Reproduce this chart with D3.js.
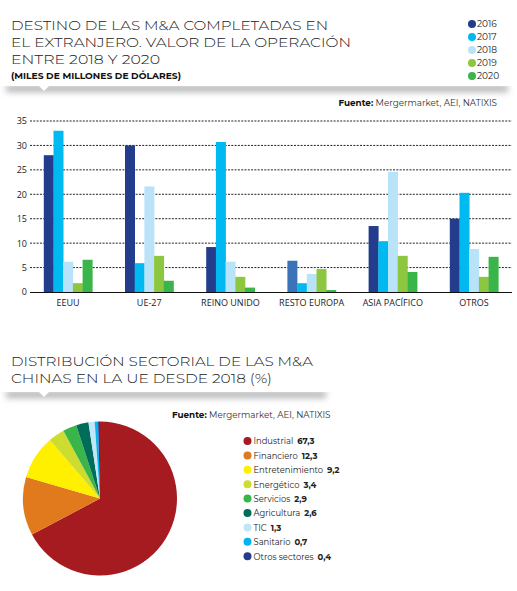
<!DOCTYPE html>
<html><head><meta charset="utf-8">
<script src="https://cdn.jsdelivr.net/npm/d3@7/dist/d3.min.js"></script>
<style>
body{margin:0;background:#fff;}
svg{display:block;}
text{font-family:"Montserrat","Lato","Open Sans",sans-serif;}
</style></head>
<body>
<svg id="chart" width="517" height="591"></svg>
<script>
// ---------- DATA ----------
const categories = ["EEUU", "UE-27", "REINO UNIDO", "RESTO EUROPA", "ASIA PACÍFICO", "OTROS"];
const years = ["2016", "2017", "2018", "2019", "2020"];
const v2016 = [28, 30, 9.2, 6.4, 13.5, 15];
const v2017 = [33, 5.9, 30.7, 1.8, 10.4, 20.3];
const v2018 = [6.2, 21.6, 6.2, 3.7, 24.6, 8.8];
const v2019 = [1.8, 7.4, 3.1, 4.7, 7.4, 3.1];
const v2020 = [6.6, 2.3, 0.9, 0.4, 4.1, 7.2];
const yTicks = [0, 5, 10, 15, 20, 25, 30, 35];
const yearColors = ["#243c8c", "#00b9f1", "#b8e3f8", "#8dc63f", "#39b54a"];

const sectors = ["Industrial", "Financiero", "Entretenimiento", "Energético", "Servicios", "Agricultura", "TIC", "Sanitario", "Otros sectores"];
const shares = [67.3, 12.3, 9.2, 3.4, 2.9, 2.6, 1.3, 0.7, 0.4];
const shareLabels = ["67,3", "12,3", "9,2", "3,4", "2,9", "2,6", "1,3", "0,7", "0,4"];
const sectorColors = ["#a51b20", "#e07a1c", "#fff000", "#cddc2f", "#3ab54a", "#006d5b", "#bfe6f9", "#00b6ef", "#253c8d"];

const series = [v2016, v2017, v2018, v2019, v2020];

const svg = d3.select("#chart");
const defs = svg.append("defs");
const blur = defs.append("filter").attr("id", "blur").attr("x", "-10%").attr("y", "-200%").attr("width", "120%").attr("height", "500%");
blur.append("feGaussianBlur").attr("stdDeviation", 3);

function header(y, x1, x2, px) {
  svg.append("rect").attr("x", x1).attr("y", y - 1).attr("width", x2 - x1).attr("height", 7)
    .attr("fill", "#b4b4b4").attr("filter", "url(#blur)");
  svg.append("rect").attr("x", x1 - 20).attr("y", y - 20).attr("width", x2 - x1 + 40).attr("height", 20).attr("fill", "#fff");
  svg.append("path").attr("d", `M${px - 5},${y} L${px + 5},${y} L${px},${y + 5} Z`).attr("fill", "#fff");
}

// ---------- TITLE 1 ----------
header(86, 6, 508, 44);
const t1 = ["DESTINO DE LAS M&A COMPLETADAS EN", "EL EXTRANJERO. VALOR DE LA OPERACIÓN", "ENTRE 2018 Y 2020"];
const t1w = [317, 340, 149];
const t1y = [30, 47, 64];
t1.forEach((t, i) => {
  svg.append("text").attr("x", 11).attr("y", t1y[i]).attr("font-size", 14).attr("font-weight", 300)
    .attr("fill", "#222").attr("textLength", t1w[i]).attr("lengthAdjust", "spacingAndGlyphs").text(t);
});
svg.append("text").attr("x", 11).attr("y", 79).attr("font-size", 8).attr("font-weight", 700)
  .attr("fill", "#111").attr("textLength", 170).attr("lengthAdjust", "spacingAndGlyphs").text("(MILES DE MILLONES DE DÓLARES)");

// legend years
const lg = svg.append("g");
years.forEach((y, i) => {
  const yy = 24 + i * 13;
  lg.append("circle").attr("cx", 472).attr("cy", yy).attr("r", 4).attr("fill", yearColors[i]);
  lg.append("text").attr("x", 477).attr("y", yy + 3.3).attr("font-size", 9).attr("fill", "#222").text(y);
});

// fuente
const f1 = svg.append("text").attr("x", 497).attr("y", 106).attr("text-anchor", "end").attr("font-size", 8.8).attr("fill", "#333");
f1.append("tspan").attr("font-weight", 700).attr("fill", "#111").text("Fuente:");
f1.append("tspan").text(" Mergermarket, AEI, NATIXIS");

// ---------- BAR CHART ----------
const x0 = d3.scaleBand().domain(categories).range([27.4, 514.6]).padding(0);
const x1 = d3.scaleBand().domain(years).range([16.4, 64.9]).padding(0);
const y = d3.scaleLinear().domain([0, 35]).range([292, 121]);

const grid = svg.append("g");
yTicks.filter(t => t > 0).forEach(t => {
  grid.append("line").attr("x1", 30).attr("x2", 512).attr("y1", y(t)).attr("y2", y(t))
    .attr("stroke", "#222").attr("stroke-width", 1).attr("stroke-dasharray", "2,1.3");
});
const yAxis = svg.append("g").attr("transform", "translate(29,0)")
  .call(d3.axisLeft(y).tickValues(yTicks).tickSize(0).tickPadding(2));
yAxis.select(".domain").remove();
yAxis.selectAll("text").attr("font-size", 9).attr("fill", "#222").style("font-family", "'Open Sans',sans-serif");

const groups = svg.append("g").selectAll("g").data(categories).join("g")
  .attr("transform", d => `translate(${x0(d)},0)`);
groups.selectAll("rect").data((d, ci) => years.map((yr, si) => ({ cat: d, yr, si, v: series[si][ci] })))
  .join("rect")
  .attr("x", d => x1(d.yr)).attr("width", x1.bandwidth() + 0.3)
  .attr("y", d => y(d.v)).attr("height", d => y(0) - y(d.v))
  .attr("fill", d => (d.cat === "RESTO EUROPA" && d.si === 0) ? "#3a73b8" : yearColors[d.si]);

svg.append("line").attr("x1", 30).attr("x2", 512).attr("y1", 292.5).attr("y2", 292.5).attr("stroke", "#111").attr("stroke-width", 1.2);
const xAxis = svg.append("g").attr("transform", "translate(0,292)")
  .call(d3.axisBottom(x0).tickSize(0).tickPadding(8));
xAxis.select(".domain").remove();
xAxis.selectAll("text").attr("font-size", 9).attr("fill", "#222").style("font-family", "'Open Sans',sans-serif");

// ---------- TITLE 2 ----------
header(392, 6, 326, 44);
const t2 = ["DISTRIBUCIÓN SECTORIAL DE LAS M&A", "CHINAS EN LA UE DESDE 2018 (%)"];
const t2w = [302, 261];
[366, 383].forEach((yy, i) => {
  svg.append("text").attr("x", 11).attr("y", yy).attr("font-size", 14).attr("font-weight", 300)
    .attr("fill", "#222").attr("textLength", t2w[i]).attr("lengthAdjust", "spacingAndGlyphs").text(t2[i]);
});
const f2 = svg.append("text").attr("x", 172).attr("y", 418).attr("font-size", 8.8).attr("fill", "#333");
f2.append("tspan").attr("font-weight", 700).attr("fill", "#111").text("Fuente:");
f2.append("tspan").text(" Mergermarket, AEI, NATIXIS");

// ---------- PIE ----------
const pie = d3.pie().sort(null).value(d => d)(shares);
const arc = d3.arc().innerRadius(0).outerRadius(77);
svg.append("g").attr("transform", "translate(100,498.5)")
  .selectAll("path").data(pie).join("path")
  .attr("d", arc).attr("fill", (d, i) => sectorColors[i]);

const pl = svg.append("g");
sectors.forEach((s, i) => {
  const yy = 441 + i * 14.4;
  pl.append("circle").attr("cx", 247.5).attr("cy", yy).attr("r", 4).attr("fill", sectorColors[i]);
  const t = pl.append("text").attr("x", 253.5).attr("y", yy + 3.3).attr("font-size", 8.4).attr("fill", "#222");
  t.append("tspan").text(s);
  t.append("tspan").attr("dx", 4).attr("font-weight", 700).text(shareLabels[i]);
});
</script>
</body></html>
